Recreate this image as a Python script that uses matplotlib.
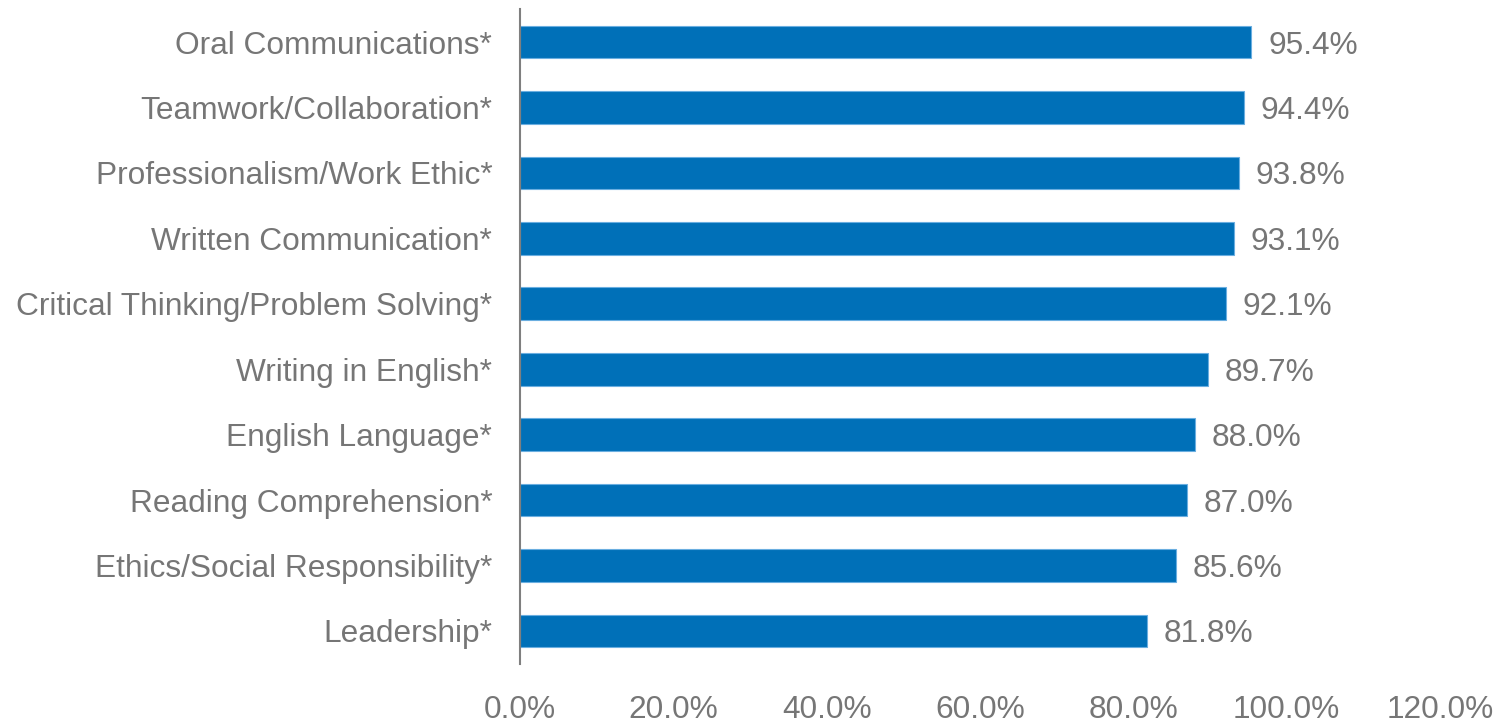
import matplotlib
matplotlib.use("Agg")
import matplotlib.pyplot as plt
from matplotlib.ticker import FuncFormatter

plt.rcParams['font.family'] = ['Liberation Sans', 'DejaVu Sans']

categories = [
    "Oral Communications*",
    "Teamwork/Collaboration*",
    "Professionalism/Work Ethic*",
    "Written Communication*",
    "Critical Thinking/Problem Solving*",
    "Writing in English*",
    "English Language*",
    "Reading Comprehension*",
    "Ethics/Social Responsibility*",
    "Leadership*",
]
values = [95.4, 94.4, 93.8, 93.1, 92.1, 89.7, 88.0, 87.0, 85.6, 81.8]
x_ticks = [0, 20, 40, 60, 80, 100, 120]

text_color = "#767676"
bar_color = "#0070B8"

fig = plt.figure(figsize=(15.05, 7.25), dpi=100)
ax = fig.add_axes([520/1505, 1 - 663.7/725, (1440-520)/1505, (663.7-9.3)/725])

ypos = list(range(len(categories)))
ax.barh(ypos, values, height=0.5, color=bar_color, edgecolor="#6AAEE0", linewidth=0.8)
ax.set_ylim(len(categories) - 0.5, -0.5)
ax.set_xlim(0, 120)
ax.set_yticks(ypos)
ax.set_yticklabels(categories)
ax.set_xticks(x_ticks)
ax.xaxis.set_major_formatter(FuncFormatter(lambda v, p: f"{v:.1f}%"))

ax.tick_params(axis='y', length=0, pad=20, labelsize=22.8, labelcolor=text_color)
ax.tick_params(axis='x', length=0, pad=22.5, labelsize=22.8, labelcolor=text_color)

for s in ['top', 'right', 'bottom']:
    ax.spines[s].set_visible(False)
ax.spines['left'].set_color("#7f7f7f")
ax.spines['left'].set_linewidth(1.5)

for y, v in zip(ypos, values):
    ax.annotate(f"{v:.1f}%", xy=(v, y), xytext=(12, 0), textcoords='offset points',
                va='center_baseline', ha='left', fontsize=22.8, color=text_color)

fig.savefig("out.png", dpi=100)
